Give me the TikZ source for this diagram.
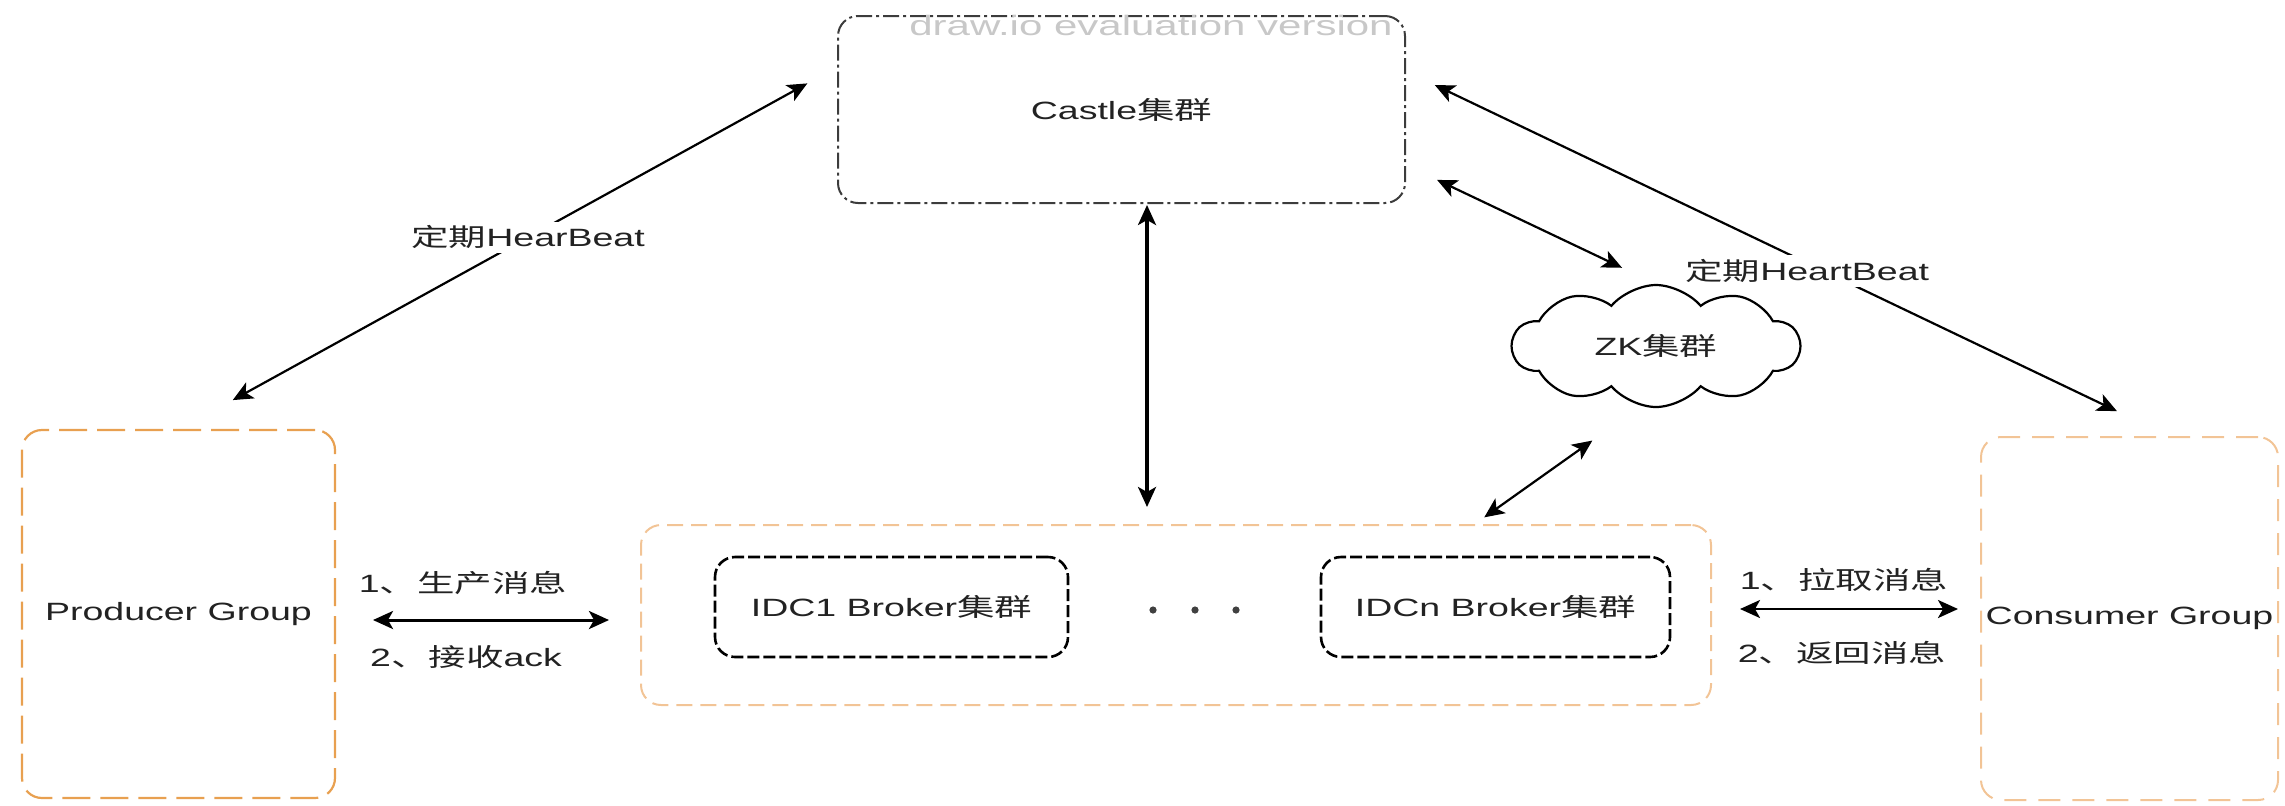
\documentclass[tikz,border=0pt]{standalone}
\usepackage{fontspec}
\setmainfont{Liberation Sans}
\newfontfamily\cjk{Noto Sans CJK SC}
\usetikzlibrary{shapes.symbols,arrows.meta,calc}
\newcommand{\wide}[1]{\scalebox{1.5}[1]{#1}}
\newcommand{\zh}[1]{{\cjk #1}}
\definecolor{ora}{RGB}{232,160,80}
\definecolor{orb}{RGB}{242,196,150}
\definecolor{wmc}{RGB}{200,200,200}
\definecolor{castlec}{RGB}{60,60,60}
\definecolor{txtc}{RGB}{34,34,34}
\begin{document}
\begin{tikzpicture}[x=0.5pt,y=-0.5pt,
  txt/.style={font=\fontsize{12.5}{15}\selectfont, text=txtc},
  box/.style={rounded corners=10pt, inner sep=0pt, outer sep=0pt, txt},
  arr/.style={{Stealth[length=10pt,width=9pt,inset=2.5pt]}-{Stealth[length=10pt,width=9pt,inset=2.5pt]}, line width=1.3pt, black},
  lbl/.style={txt, fill=white, inner sep=2pt}]
\useasboundingbox (0,0) rectangle (2285,805);

% boxes
\node[box, draw=castlec, line width=1pt, dash pattern=on 8pt off 2pt on 1.5pt off 2pt,
      minimum width=283.5pt, minimum height=93.5pt] (castle) at (1121.5,109.5) {\wide{Castle\zh{集群}}};
\node[font=\fontsize{14}{16}\selectfont, text=wmc] (wmk) at (1151,25) {\wide{draw.io evaluation version}};

\node[box, draw=ora, line width=1.1pt, dash pattern=on 14pt off 5pt,
      minimum width=156.5pt, minimum height=184pt] (producer) at (178.5,614) {\wide{Producer Group}};
\node[box, draw=orb, line width=1pt, dash pattern=on 11pt off 6pt,
      minimum width=148.5pt, minimum height=181.5pt] (consumer) at (2129.5,618.5) {\wide{Consumer Group}};
\node[box, draw=orb, line width=1pt, dash pattern=on 8pt off 4pt,
      minimum width=535pt, minimum height=90pt] (broker) at (1176,615) {};
\node[box, draw=black, line width=1.3pt, dash pattern=on 6pt off 2pt,
      minimum width=176.5pt, minimum height=50pt] (idc1) at (891.5,607) {\wide{IDC1 Broker\zh{集群}}};
\node[box, draw=black, line width=1.3pt, dash pattern=on 6pt off 2pt,
      minimum width=174.5pt, minimum height=50pt] (idcn) at (1495.5,607) {\wide{IDCn Broker\zh{集群}}};
\fill[black!75] (1153,610) circle (1.8pt) (1195,610) circle (1.8pt) (1236,610) circle (1.8pt);

\node[cloud, cloud puffs=10, cloud puff arc=100, cloud ignores aspect, draw=black, line width=1.1pt,
      minimum width=143.5pt, minimum height=61pt, inner sep=0pt, txt] (zk) at (1656,346) {\wide{ZK\zh{集群}}};

% connectors
\draw[arr, line width=1.1pt, shorten <=31pt, shorten >=17.5pt]
  (producer.north) -- ($(castle.north west)!0.27!(castle.south west)$)
  node[lbl, pos=0.53] (hbl) {\wide{\zh{定期}HearBeat}};
\draw[arr, line width=1.1pt, shorten <=16.5pt, shorten >=30pt]
  ($(castle.north east)!0.293!(castle.south east)$) -- ($(consumer.north west)!0.64!(consumer.north east)$)
  node[lbl, pos=0.525, yshift=-4pt] (hbr) {\wide{\zh{定期}HeartBeat}};
\draw[arr, line width=1.1pt, shorten <=17.75pt, shorten >=18.8pt]
  ($(castle.north east)!0.795!(castle.south east)$) -- (zk.north);
\draw[arr, line width=1.1pt, shorten <=6.6pt, shorten >=28pt]
  ($(broker.north west)!0.778!(broker.north east)$) -- ($(zk.south)+(-18,0)$);
\coordinate (vtop) at ($(castle.south west)!0.545!(castle.south east)$);
\draw[arr, line width=1.6pt, shorten <=1pt, shorten >=9pt] (vtop) -- (vtop |- broker.north);
\draw[arr, line width=1.5pt, shorten <=19pt, shorten >=16pt] ([yshift=-3pt]producer.east) -- ([yshift=-2.5pt]broker.west);
\draw[arr, shorten <=14.5pt, shorten >=11.5pt] ([yshift=3pt]broker.east) -- ([yshift=4.75pt]consumer.west);

% labels
\node[txt] (l1) at (463,583) {\wide{1\zh{、生产消息}}};
\node[txt] (l2) at (466,657) {\wide{2\zh{、接收}ack}};
\node[txt] (l3) at (1844,580) {\wide{1\zh{、拉取消息}}};
\node[txt] (l4) at (1842,653) {\wide{2\zh{、返回消息}}};
\end{tikzpicture}
\end{document}
